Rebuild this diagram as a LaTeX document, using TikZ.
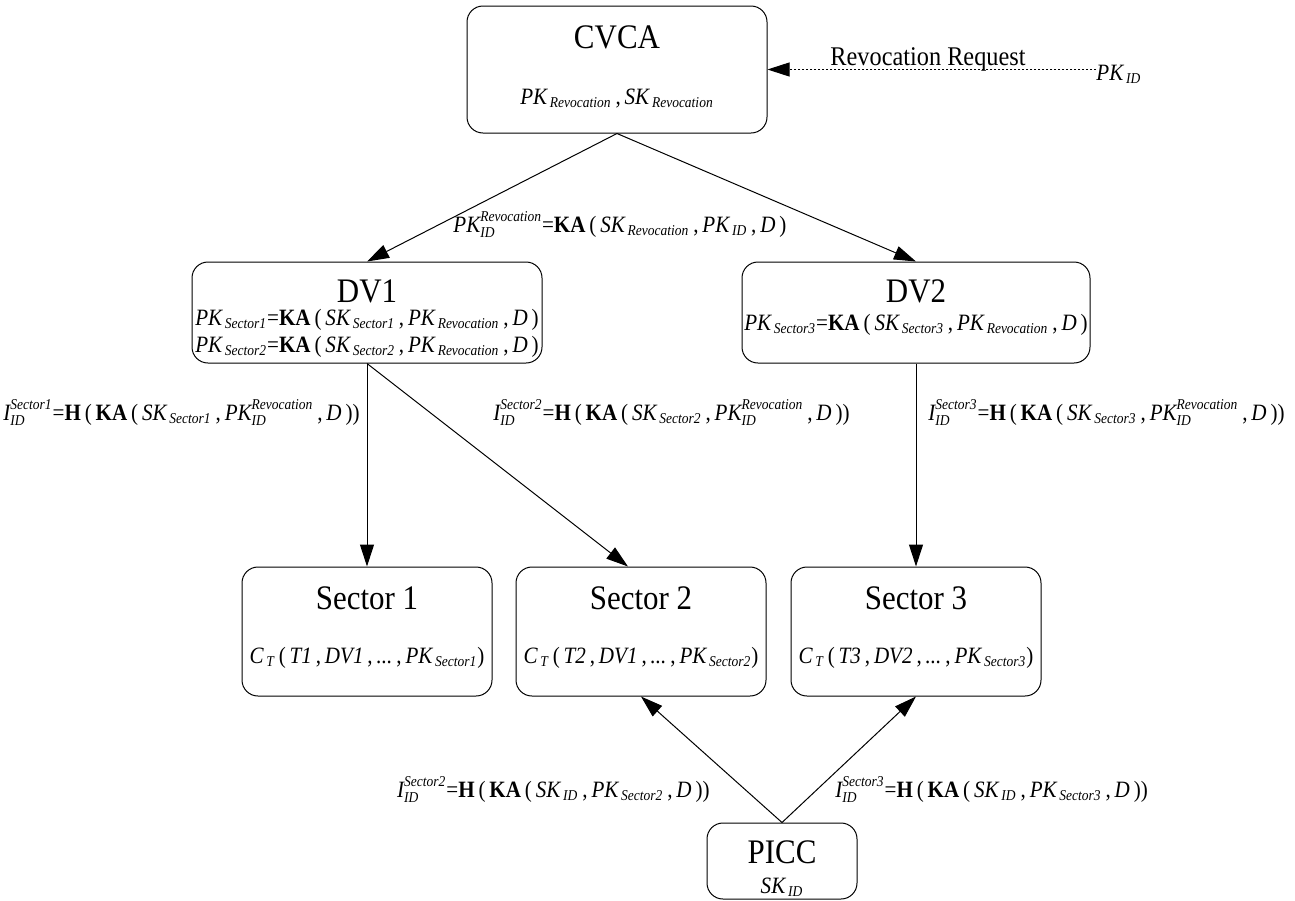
\documentclass[tikz,border=0pt]{standalone}
\usepackage{fontspec}
\setmainfont{Liberation Serif}[FakeStretch=0.9]
\usepackage{amsmath}
\DeclareMathSizes{11.7}{11.7}{7.5}{5.5}
\usetikzlibrary{arrows.meta}
\newcommand{\sbx}[2]{$\textit{#1}_{\,\textit{#2}}$}
\newcommand{\sbsp}[3]{$\textit{#1}^{\textit{#3}}_{\textit{#2}}$}
\newcommand{\cmm}{\,,\,}
\newcommand{\ttlsize}{\fontsize{17.2}{20}\selectfont}
\newcommand{\eqsize}{\fontsize{11.7}{14}\selectfont}
\newcommand{\reqsize}{\fontsize{13.5}{15}\selectfont}
\begin{document}
\begin{tikzpicture}[x=0.5pt,y=-0.5pt,
  box/.style={draw, rounded corners=8pt, line width=0.5pt, inner sep=0pt},
  conn/.style={line width=0.5pt, -{Triangle[length=11pt,width=7pt]}},
  ttl/.style={font=\ttlsize, inner sep=0pt, anchor=base},
  eq/.style={font=\eqsize, inner sep=0pt},
  req/.style={font=\reqsize, inner sep=0pt}]
\useasboundingbox (0,0) rectangle (1295,900);

% boxes
\node[box, minimum width=150pt, minimum height=63.5pt] (cvca) at (617,69.5) {};
\node[box, minimum width=175pt, minimum height=50.5pt] (dv1) at (367,312.5) {};
\node[box, minimum width=174pt, minimum height=50.5pt] (dv2) at (916,312.5) {};
\node[box, minimum width=125pt, minimum height=64.5pt] (s1) at (367,631.5) {};
\node[box, minimum width=125pt, minimum height=64.5pt] (s2) at (641,631.5) {};
\node[box, minimum width=125pt, minimum height=64.5pt] (s3) at (916,631.5) {};
\node[box, minimum width=75pt, minimum height=38pt] (picc) at (782,861) {};

% box texts
\node[ttl] (cvcat) at (617,48) {CVCA};
\node[eq, anchor=base] (cvcae) at (617,104) {\sbx{PK}{Revocation}\cmm\sbx{SK}{Revocation}};

\node[ttl] (dv1t) at (367,302) {DV1};
\node[eq, anchor=base] (dv1a) at (367,325) {\sbx{PK}{Sector1}=\textbf{KA}\,(\,\sbx{SK}{Sector1}\cmm\sbx{PK}{Revocation}\cmm\textit{D}\,)};
\node[eq, anchor=base] (dv1b) at (367,352) {\sbx{PK}{Sector2}=\textbf{KA}\,(\,\sbx{SK}{Sector2}\cmm\sbx{PK}{Revocation}\cmm\textit{D}\,)};

\node[ttl] (dv2t) at (916,302) {DV2};
\node[eq, anchor=base] (dv2a) at (916,330) {\sbx{PK}{Sector3}=\textbf{KA}\,(\,\sbx{SK}{Sector3}\cmm\sbx{PK}{Revocation}\cmm\textit{D}\,)};

\node[ttl] (s1t) at (367,609) {Sector 1};
\node[eq, anchor=base] (s1e) at (367,663) {\sbx{C}{T}\,(\,\textit{T1}\cmm\textit{DV1}\cmm\textit{...}\cmm\sbx{PK}{Sector1})};
\node[ttl] (s2t) at (641,609) {Sector 2};
\node[eq, anchor=base] (s2e) at (641,663) {\sbx{C}{T}\,(\,\textit{T2}\cmm\textit{DV1}\cmm\textit{...}\cmm\sbx{PK}{Sector2})};
\node[ttl] (s3t) at (916,609) {Sector 3};
\node[eq, anchor=base] (s3e) at (916,663) {\sbx{C}{T}\,(\,\textit{T3}\cmm\textit{DV2}\cmm\textit{...}\cmm\sbx{PK}{Sector3})};

\node[ttl] (picct) at (782,863) {PICC};
\node[eq, anchor=base] (pICCe) at (782,893) {\sbx{SK}{ID}};

% revocation request
\node[eq, anchor=base west] (pkid) at (1096,80) {\sbx{PK}{ID}};
\node[req, anchor=base] (rr) at (928,65) {Revocation Request};
\draw[conn, dash pattern=on 1pt off 1pt] (pkid.west |- cvca.east) -- (cvca.east);

% connectors
\draw[conn] (cvca.south) -- (dv1.north);
\draw[conn] (cvca.south) -- (dv2.north);
\draw[conn] (dv1.south) -- (s1.north);
\draw[conn] (dv1.south) -- ([xshift=-6.5pt]s2.north);
\draw[conn] (dv2.south) -- (s3.north);
\draw[conn] (picc.north) -- (s2.south);
\draw[conn] (picc.north) -- (s3.south);

% labels
\node[eq, anchor=base west] (l0) at (453,232) {\sbsp{PK}{ID}{Revocation}=\textbf{KA}\,(\,\sbx{SK}{Revocation}\cmm\sbx{PK}{ID}\cmm\textit{D}\,)};
\node[eq, anchor=base east] (l1) at (360,420) {\sbsp{I}{ID}{Sector1}=\textbf{H}\,(\,\textbf{KA}\,(\,\sbx{SK}{Sector1}\cmm\sbsp{PK}{ID}{Revocation}\cmm\textit{D}\,))};
\node[eq, anchor=base west] (l2) at (493,420) {\sbsp{I}{ID}{Sector2}=\textbf{H}\,(\,\textbf{KA}\,(\,\sbx{SK}{Sector2}\cmm\sbsp{PK}{ID}{Revocation}\cmm\textit{D}\,))};
\node[eq, anchor=base west] (l3) at (928,420) {\sbsp{I}{ID}{Sector3}=\textbf{H}\,(\,\textbf{KA}\,(\,\sbx{SK}{Sector3}\cmm\sbsp{PK}{ID}{Revocation}\cmm\textit{D}\,))};
\node[eq, anchor=base east] (l4) at (710,797) {\sbsp{I}{ID}{Sector2}=\textbf{H}\,(\,\textbf{KA}\,(\,\sbx{SK}{ID}\cmm\sbx{PK}{Sector2}\cmm\textit{D}\,))};
\node[eq, anchor=base west] (l5) at (835,797) {\sbsp{I}{ID}{Sector3}=\textbf{H}\,(\,\textbf{KA}\,(\,\sbx{SK}{ID}\cmm\sbx{PK}{Sector3}\cmm\textit{D}\,))};
\end{tikzpicture}
\end{document}
